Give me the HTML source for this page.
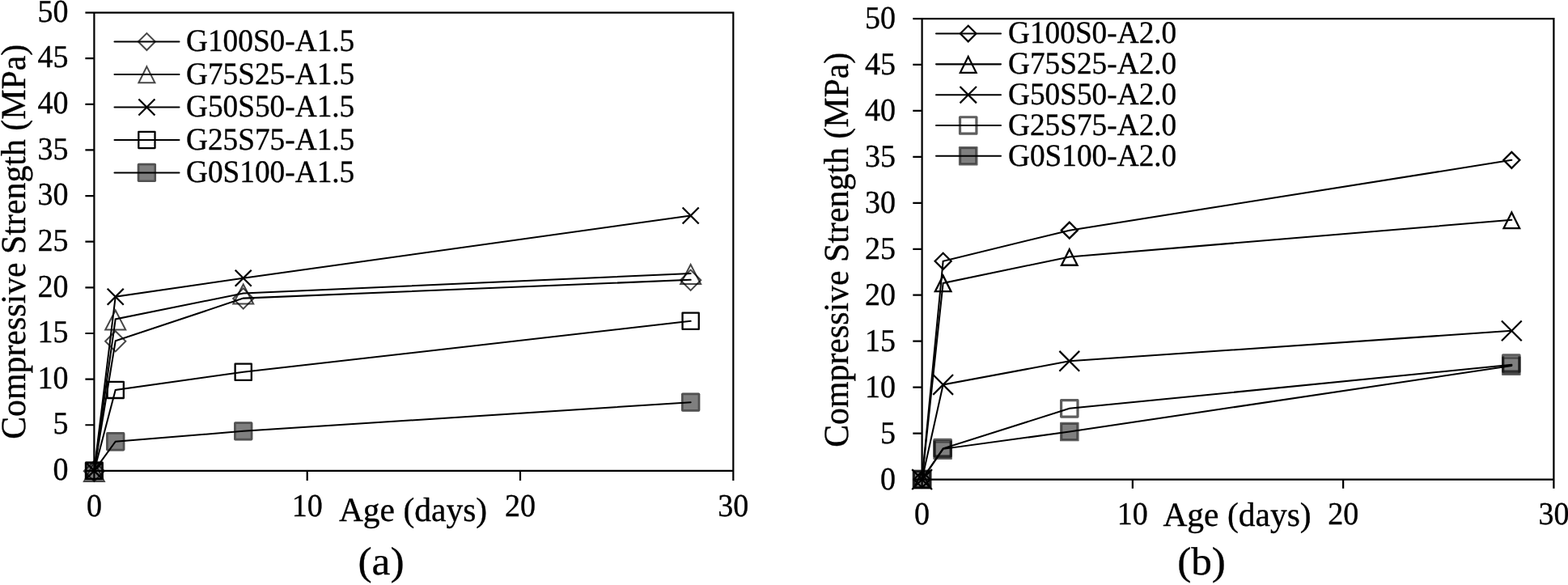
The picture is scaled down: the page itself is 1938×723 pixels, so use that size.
<!DOCTYPE html>
<html lang="en">
<head>
<meta charset="utf-8">
<title>Compressive strength vs age</title>
<style>
html,body{margin:0;padding:0;background:#fff;}
body{width:1938px;height:723px;overflow:hidden;}
svg{display:block;}
svg text{font-family:"Liberation Serif", "Times New Roman", serif;fill:#000;stroke:#000;stroke-width:0.35px;stroke-linejoin:round;text-rendering:geometricPrecision;}
</style>
</head>
<body>
<svg width="1938" height="723" viewBox="0 0 1938 723">
<rect width="1938" height="723" fill="#fff"/>
<g id="chart-a">
<path d="M105.4 15.55H907.4M105.4 581.9H907.4M116.4 14.45V593.9M906.3 14.45V593.9M105.4 525.26H116.4M105.4 468.63H116.4M105.4 412H116.4M105.4 355.36H116.4M105.4 298.72H116.4M105.4 242.09H116.4M105.4 185.45H116.4M105.4 128.82H116.4M105.4 72.19H116.4M379.7 581.9V593.9M643 581.9V593.9" fill="none" stroke="#000" stroke-width="2.2"/>
<text transform="translate(84.5 593.1) scale(1 1.04)" font-size="38" text-anchor="end">0</text>
<text transform="translate(84.5 536.47) scale(1 1.04)" font-size="38" text-anchor="end">5</text>
<text transform="translate(84.5 479.83) scale(1 1.04)" font-size="38" text-anchor="end">10</text>
<text transform="translate(84.5 423.19) scale(1 1.04)" font-size="38" text-anchor="end">15</text>
<text transform="translate(84.5 366.56) scale(1 1.04)" font-size="38" text-anchor="end">20</text>
<text transform="translate(84.5 309.92) scale(1 1.04)" font-size="38" text-anchor="end">25</text>
<text transform="translate(84.5 253.29) scale(1 1.04)" font-size="38" text-anchor="end">30</text>
<text transform="translate(84.5 196.65) scale(1 1.04)" font-size="38" text-anchor="end">35</text>
<text transform="translate(84.5 140.02) scale(1 1.04)" font-size="38" text-anchor="end">40</text>
<text transform="translate(84.5 83.39) scale(1 1.04)" font-size="38" text-anchor="end">45</text>
<text transform="translate(84.5 26.75) scale(1 1.04)" font-size="38" text-anchor="end">50</text>
<text transform="translate(116.4 637.6) scale(1 1.04)" font-size="38" text-anchor="middle">0</text>
<text transform="translate(379.7 637.6) scale(1 1.04)" font-size="38" text-anchor="middle">10</text>
<text transform="translate(643 637.6) scale(1 1.04)" font-size="38" text-anchor="middle">20</text>
<text transform="translate(906.3 637.6) scale(1 1.04)" font-size="38" text-anchor="middle">30</text>
<text transform="translate(30.6 298.8) rotate(-90) scale(1 1.03)" font-size="41.85" text-anchor="middle">Compressive Strength (MPa)</text>
<text transform="translate(510.5 644.3) scale(1 1.01)" font-size="41.5" text-anchor="middle">Age (days)</text>
<text transform="translate(471 709.6) scale(1 0.95)" font-size="51.5" text-anchor="middle">(a)</text>
<polyline points="116.4,581.9 142.73,421.4 300.71,368.61 853.64,345.85" fill="none" stroke="#000" stroke-width="2.05" stroke-linejoin="miter" stroke-linecap="round"/>
<path d="M103.8 582.3L116.4 569.7L129 582.3L116.4 594.9Z" fill="none" stroke="#000" stroke-width="2.0" stroke-opacity="0.72" stroke-linejoin="miter"/>
<path d="M130.13 421.8L142.73 409.2L155.33 421.8L142.73 434.4Z" fill="none" stroke="#000" stroke-width="2.0" stroke-opacity="0.72" stroke-linejoin="miter"/>
<path d="M288.11 369.01L300.71 356.41L313.31 369.01L300.71 381.61Z" fill="none" stroke="#000" stroke-width="2.0" stroke-opacity="0.72" stroke-linejoin="miter"/>
<path d="M841.04 346.25L853.64 333.65L866.24 346.25L853.64 358.85Z" fill="none" stroke="#000" stroke-width="2.0" stroke-opacity="0.72" stroke-linejoin="miter"/>
<polyline points="116.4,581.9 142.73,394.44 300.71,362.5 853.64,338.03" fill="none" stroke="#000" stroke-width="2.05" stroke-linejoin="miter" stroke-linecap="round"/>
<path d="M116.4 570.9L128.9 594.9L103.9 594.9Z" fill="none" stroke="#000" stroke-width="2.0" stroke-opacity="0.72" stroke-linejoin="miter"/>
<path d="M142.73 383.44L155.23 407.44L130.23 407.44Z" fill="none" stroke="#000" stroke-width="2.0" stroke-opacity="0.72" stroke-linejoin="miter"/>
<path d="M300.71 351.5L313.21 375.5L288.21 375.5Z" fill="none" stroke="#000" stroke-width="2.0" stroke-opacity="0.72" stroke-linejoin="miter"/>
<path d="M853.64 327.03L866.14 351.03L841.14 351.03Z" fill="none" stroke="#000" stroke-width="2.0" stroke-opacity="0.72" stroke-linejoin="miter"/>
<polyline points="116.4,581.9 142.73,366.69 300.71,343.69 853.64,266.44" fill="none" stroke="#000" stroke-width="2.05" stroke-linejoin="miter" stroke-linecap="round"/>
<path d="M106.4 571.9L126.4 591.9M106.4 591.9L126.4 571.9" fill="none" stroke="#000" stroke-width="2.3"/>
<path d="M132.73 356.69L152.73 376.69M132.73 376.69L152.73 356.69" fill="none" stroke="#000" stroke-width="2.3"/>
<path d="M290.71 333.69L310.71 353.69M290.71 353.69L310.71 333.69" fill="none" stroke="#000" stroke-width="2.3"/>
<path d="M843.64 256.44L863.64 276.44M843.64 276.44L863.64 256.44" fill="none" stroke="#000" stroke-width="2.3"/>
<polyline points="116.4,581.9 142.73,481.88 300.71,459.79 853.64,396.82" fill="none" stroke="#000" stroke-width="2.05" stroke-linejoin="miter" stroke-linecap="round"/>
<rect x="106.3" y="571.8" width="20.2" height="20.2" fill="none" stroke="#000" stroke-width="2.3" stroke-opacity="1" stroke-linejoin="round"/>
<rect x="132.63" y="471.78" width="20.2" height="20.2" fill="none" stroke="#000" stroke-width="2.3" stroke-opacity="1" stroke-linejoin="round"/>
<rect x="290.61" y="449.69" width="20.2" height="20.2" fill="none" stroke="#000" stroke-width="2.3" stroke-opacity="1" stroke-linejoin="round"/>
<rect x="843.54" y="386.72" width="20.2" height="20.2" fill="none" stroke="#000" stroke-width="2.3" stroke-opacity="1" stroke-linejoin="round"/>
<polyline points="116.4,581.9 142.73,545.77 300.71,532.85 853.64,497.17" fill="none" stroke="#000" stroke-width="2.05" stroke-linejoin="miter" stroke-linecap="round"/>
<rect x="104.75" y="570.25" width="23.3" height="23.3" rx="1.8" fill="#000" fill-opacity="0.5"/><rect x="106.1" y="571.6" width="20.6" height="20.6" rx="0.45" fill="none" stroke="#000" stroke-opacity="0.36" stroke-width="2.7"/>
<rect x="131.08" y="534.12" width="23.3" height="23.3" rx="1.8" fill="#000" fill-opacity="0.5"/><rect x="132.43" y="535.47" width="20.6" height="20.6" rx="0.45" fill="none" stroke="#000" stroke-opacity="0.36" stroke-width="2.7"/>
<rect x="289.06" y="521.2" width="23.3" height="23.3" rx="1.8" fill="#000" fill-opacity="0.5"/><rect x="290.41" y="522.55" width="20.6" height="20.6" rx="0.45" fill="none" stroke="#000" stroke-opacity="0.36" stroke-width="2.7"/>
<rect x="841.99" y="485.52" width="23.3" height="23.3" rx="1.8" fill="#000" fill-opacity="0.5"/><rect x="843.34" y="486.87" width="20.6" height="20.6" rx="0.45" fill="none" stroke="#000" stroke-opacity="0.36" stroke-width="2.7"/>
<path d="M141.5 51.45H221.5" stroke="#000" stroke-width="2.05" stroke-linecap="round" fill="none"/>
<path d="M170.9 51.55L181.4 41.05L191.9 51.55L181.4 62.05Z" fill="none" stroke="#000" stroke-width="2.0" stroke-opacity="0.72" stroke-linejoin="miter"/>
<text transform="translate(230 63.25) scale(1 1.04)" font-size="37.3">G100S0-A1.5</text>
<path d="M141.5 91.95H221.5" stroke="#000" stroke-width="2.05" stroke-linecap="round" fill="none"/>
<path d="M181.4 82.35L191.4 102.35L171.4 102.35Z" fill="none" stroke="#000" stroke-width="2.0" stroke-opacity="0.72" stroke-linejoin="miter"/>
<text transform="translate(230 103.75) scale(1 1.04)" font-size="37.3">G75S25-A1.5</text>
<path d="M141.5 132.45H221.5" stroke="#000" stroke-width="2.05" stroke-linecap="round" fill="none"/>
<path d="M171.4 122.45L191.4 142.45M171.4 142.45L191.4 122.45" fill="none" stroke="#000" stroke-width="2.3"/>
<text transform="translate(230 144.25) scale(1 1.04)" font-size="37.3">G50S50-A1.5</text>
<path d="M141.5 172.95H221.5" stroke="#000" stroke-width="2.05" stroke-linecap="round" fill="none"/>
<rect x="171.3" y="162.85" width="20.2" height="20.2" fill="none" stroke="#000" stroke-width="2.3" stroke-opacity="1" stroke-linejoin="round"/>
<text transform="translate(230 184.75) scale(1 1.04)" font-size="37.3">G25S75-A1.5</text>
<path d="M141.5 213.45H221.5" stroke="#000" stroke-width="2.05" stroke-linecap="round" fill="none"/>
<rect x="169.75" y="201.8" width="23.3" height="23.3" rx="1.8" fill="#000" fill-opacity="0.5"/><rect x="171.1" y="203.15" width="20.6" height="20.6" rx="0.45" fill="none" stroke="#000" stroke-opacity="0.36" stroke-width="2.7"/>
<text transform="translate(230 225.25) scale(1 1.04)" font-size="37.3">G0S100-A1.5</text>
</g>
<g id="chart-b">
<path d="M1128.3 23H1921.53M1128.3 592.55H1921.53M1139.6 21.88V603.85M1920.4 21.88V603.85M1128.3 535.59H1139.6M1128.3 478.64H1139.6M1128.3 421.68H1139.6M1128.3 364.73H1139.6M1128.3 307.77H1139.6M1128.3 250.82H1139.6M1128.3 193.86H1139.6M1128.3 136.91H1139.6M1128.3 79.96H1139.6M1399.87 592.55V603.85M1660.13 592.55V603.85" fill="none" stroke="#000" stroke-width="2.25"/>
<text transform="translate(1107 604.65) scale(1 1.04)" font-size="38" text-anchor="end">0</text>
<text transform="translate(1107 547.69) scale(1 1.04)" font-size="38" text-anchor="end">5</text>
<text transform="translate(1107 490.74) scale(1 1.04)" font-size="38" text-anchor="end">10</text>
<text transform="translate(1107 433.78) scale(1 1.04)" font-size="38" text-anchor="end">15</text>
<text transform="translate(1107 376.83) scale(1 1.04)" font-size="38" text-anchor="end">20</text>
<text transform="translate(1107 319.88) scale(1 1.04)" font-size="38" text-anchor="end">25</text>
<text transform="translate(1107 262.92) scale(1 1.04)" font-size="38" text-anchor="end">30</text>
<text transform="translate(1107 205.96) scale(1 1.04)" font-size="38" text-anchor="end">35</text>
<text transform="translate(1107 149.01) scale(1 1.04)" font-size="38" text-anchor="end">40</text>
<text transform="translate(1107 92.06) scale(1 1.04)" font-size="38" text-anchor="end">45</text>
<text transform="translate(1107 35.1) scale(1 1.04)" font-size="38" text-anchor="end">50</text>
<text transform="translate(1139.6 647.6) scale(1 1.04)" font-size="38" text-anchor="middle">0</text>
<text transform="translate(1399.87 647.6) scale(1 1.04)" font-size="38" text-anchor="middle">10</text>
<text transform="translate(1660.13 647.6) scale(1 1.04)" font-size="38" text-anchor="middle">20</text>
<text transform="translate(1920.4 647.6) scale(1 1.04)" font-size="38" text-anchor="middle">30</text>
<text transform="translate(1048 308.8) rotate(-90) scale(1 1.03)" font-size="41.85" text-anchor="middle">Compressive Strength (MPa)</text>
<text transform="translate(1529 649.5) scale(1 1.01)" font-size="41.5" text-anchor="middle">Age (days)</text>
<text transform="translate(1485 709.6) scale(1 0.95)" font-size="51.2" text-anchor="middle">(b)</text>
<polyline points="1139.6,592.55 1165.63,322.81 1321.79,284.65 1868.35,197.85" fill="none" stroke="#000" stroke-width="2.05" stroke-linejoin="miter" stroke-linecap="round"/>
<path d="M1129.6 592.55L1139.6 582.55L1149.6 592.55L1139.6 602.55Z" fill="none" stroke="#000" stroke-width="2.3" stroke-opacity="1" stroke-linejoin="miter"/>
<path d="M1155.63 322.81L1165.63 312.81L1175.63 322.81L1165.63 332.81Z" fill="none" stroke="#000" stroke-width="2.3" stroke-opacity="1" stroke-linejoin="miter"/>
<path d="M1311.79 284.65L1321.79 274.65L1331.79 284.65L1321.79 294.65Z" fill="none" stroke="#000" stroke-width="2.3" stroke-opacity="1" stroke-linejoin="miter"/>
<path d="M1858.35 197.85L1868.35 187.85L1878.35 197.85L1868.35 207.85Z" fill="none" stroke="#000" stroke-width="2.3" stroke-opacity="1" stroke-linejoin="miter"/>
<polyline points="1139.6,592.55 1165.63,349.92 1321.79,317.46 1868.35,271.78" fill="none" stroke="#000" stroke-width="2.05" stroke-linejoin="miter" stroke-linecap="round"/>
<path d="M1139.6 583.25L1149.4 602.85L1129.8 602.85Z" fill="none" stroke="#000" stroke-width="2.3" stroke-opacity="1" stroke-linejoin="miter"/>
<path d="M1165.63 340.62L1175.43 360.22L1155.83 360.22Z" fill="none" stroke="#000" stroke-width="2.3" stroke-opacity="1" stroke-linejoin="miter"/>
<path d="M1321.79 308.16L1331.59 327.76L1311.99 327.76Z" fill="none" stroke="#000" stroke-width="2.3" stroke-opacity="1" stroke-linejoin="miter"/>
<path d="M1868.35 262.48L1878.15 282.08L1858.55 282.08Z" fill="none" stroke="#000" stroke-width="2.3" stroke-opacity="1" stroke-linejoin="miter"/>
<polyline points="1139.6,592.55 1165.63,475.45 1321.79,446.29 1868.35,408.81" fill="none" stroke="#000" stroke-width="2.05" stroke-linejoin="miter" stroke-linecap="round"/>
<path d="M1127.2 580.15L1152 604.95M1127.2 604.95L1152 580.15" fill="none" stroke="#000" stroke-width="2.2"/>
<path d="M1153.23 463.05L1178.03 487.85M1153.23 487.85L1178.03 463.05" fill="none" stroke="#000" stroke-width="2.2"/>
<path d="M1309.39 433.89L1334.19 458.69M1309.39 458.69L1334.19 433.89" fill="none" stroke="#000" stroke-width="2.2"/>
<path d="M1855.95 396.41L1880.75 421.21M1855.95 421.21L1880.75 396.41" fill="none" stroke="#000" stroke-width="2.2"/>
<polyline points="1139.6,592.55 1165.63,554.28 1321.79,504.84 1868.35,450.85" fill="none" stroke="#000" stroke-width="2.05" stroke-linejoin="miter" stroke-linecap="round"/>
<rect x="1129.4" y="582.35" width="20.4" height="20.4" fill="none" stroke="#000" stroke-width="3.2" stroke-opacity="0.63" stroke-linejoin="round"/>
<rect x="1154.91" y="543.39" width="20.4" height="20.4" fill="none" stroke="#000" stroke-width="3.2" stroke-opacity="0.63" stroke-linejoin="round"/>
<rect x="1311.59" y="494.64" width="20.4" height="20.4" fill="none" stroke="#000" stroke-width="3.2" stroke-opacity="0.63" stroke-linejoin="round"/>
<rect x="1857.63" y="438.82" width="20.4" height="20.4" fill="none" stroke="#000" stroke-width="3.2" stroke-opacity="0.63" stroke-linejoin="round"/>
<polyline points="1139.6,592.55 1165.63,554.85 1321.79,533.54 1868.35,451.99" fill="none" stroke="#000" stroke-width="2.05" stroke-linejoin="miter" stroke-linecap="round"/>
<rect x="1127.8" y="580.75" width="23.6" height="23.6" rx="1.2" fill="#000" fill-opacity="0.5"/><rect x="1129.4" y="582.35" width="20.4" height="20.4" rx="0" fill="none" stroke="#000" stroke-opacity="0.2" stroke-width="3.2"/><rect x="1130.1" y="583.05" width="19" height="19" rx="0" fill="none" stroke="#000" stroke-opacity="0.3" stroke-width="1.8"/>
<rect x="1153.31" y="544.3" width="23.6" height="23.6" rx="1.2" fill="#000" fill-opacity="0.5"/><rect x="1154.91" y="545.9" width="20.4" height="20.4" rx="0" fill="none" stroke="#000" stroke-opacity="0.2" stroke-width="3.2"/><rect x="1155.61" y="546.6" width="19" height="19" rx="0" fill="none" stroke="#000" stroke-opacity="0.3" stroke-width="1.8"/>
<rect x="1309.99" y="521.74" width="23.6" height="23.6" rx="1.2" fill="#000" fill-opacity="0.5"/><rect x="1311.59" y="523.34" width="20.4" height="20.4" rx="0" fill="none" stroke="#000" stroke-opacity="0.2" stroke-width="3.2"/><rect x="1312.29" y="524.04" width="19" height="19" rx="0" fill="none" stroke="#000" stroke-opacity="0.3" stroke-width="1.8"/>
<rect x="1856.03" y="440.41" width="23.6" height="23.6" rx="1.2" fill="#000" fill-opacity="0.5"/><rect x="1857.63" y="442.01" width="20.4" height="20.4" rx="0" fill="none" stroke="#000" stroke-opacity="0.2" stroke-width="3.2"/><rect x="1858.33" y="442.71" width="19" height="19" rx="0" fill="none" stroke="#000" stroke-opacity="0.3" stroke-width="1.8"/>
<path d="M1157 41.55H1237" stroke="#000" stroke-width="2.05" stroke-linecap="round" fill="none"/>
<path d="M1186.9 41.55L1196.7 31.75L1206.5 41.55L1196.7 51.35Z" fill="none" stroke="#000" stroke-width="2.2" stroke-opacity="1" stroke-linejoin="miter"/>
<text transform="translate(1246 53.35) scale(1 1.04)" font-size="37.3">G100S0-A2.0</text>
<path d="M1157 79.35H1237" stroke="#000" stroke-width="2.05" stroke-linecap="round" fill="none"/>
<path d="M1196.7 70.05L1206.6 89.85L1186.8 89.85Z" fill="none" stroke="#000" stroke-width="2.2" stroke-opacity="1" stroke-linejoin="miter"/>
<text transform="translate(1246 91.15) scale(1 1.04)" font-size="37.3">G75S25-A2.0</text>
<path d="M1157 117.15H1237" stroke="#000" stroke-width="2.05" stroke-linecap="round" fill="none"/>
<path d="M1186.5 106.95L1206.9 127.35M1186.5 127.35L1206.9 106.95" fill="none" stroke="#000" stroke-width="2.2"/>
<text transform="translate(1246 128.95) scale(1 1.04)" font-size="37.3">G50S50-A2.0</text>
<path d="M1157 154.95H1237" stroke="#000" stroke-width="2.05" stroke-linecap="round" fill="none"/>
<rect x="1186.5" y="144.75" width="20.4" height="20.4" fill="none" stroke="#000" stroke-width="3.2" stroke-opacity="0.63" stroke-linejoin="round"/>
<text transform="translate(1246 166.75) scale(1 1.04)" font-size="37.3">G25S75-A2.0</text>
<path d="M1157 192.75H1237" stroke="#000" stroke-width="2.05" stroke-linecap="round" fill="none"/>
<rect x="1184.9" y="180.95" width="23.6" height="23.6" rx="1.2" fill="#000" fill-opacity="0.5"/><rect x="1186.5" y="182.55" width="20.4" height="20.4" rx="0" fill="none" stroke="#000" stroke-opacity="0.2" stroke-width="3.2"/><rect x="1187.2" y="183.25" width="19" height="19" rx="0" fill="none" stroke="#000" stroke-opacity="0.3" stroke-width="1.8"/>
<text transform="translate(1246 204.55) scale(1 1.04)" font-size="37.3">G0S100-A2.0</text>
</g>
</svg>
</body>
</html>
